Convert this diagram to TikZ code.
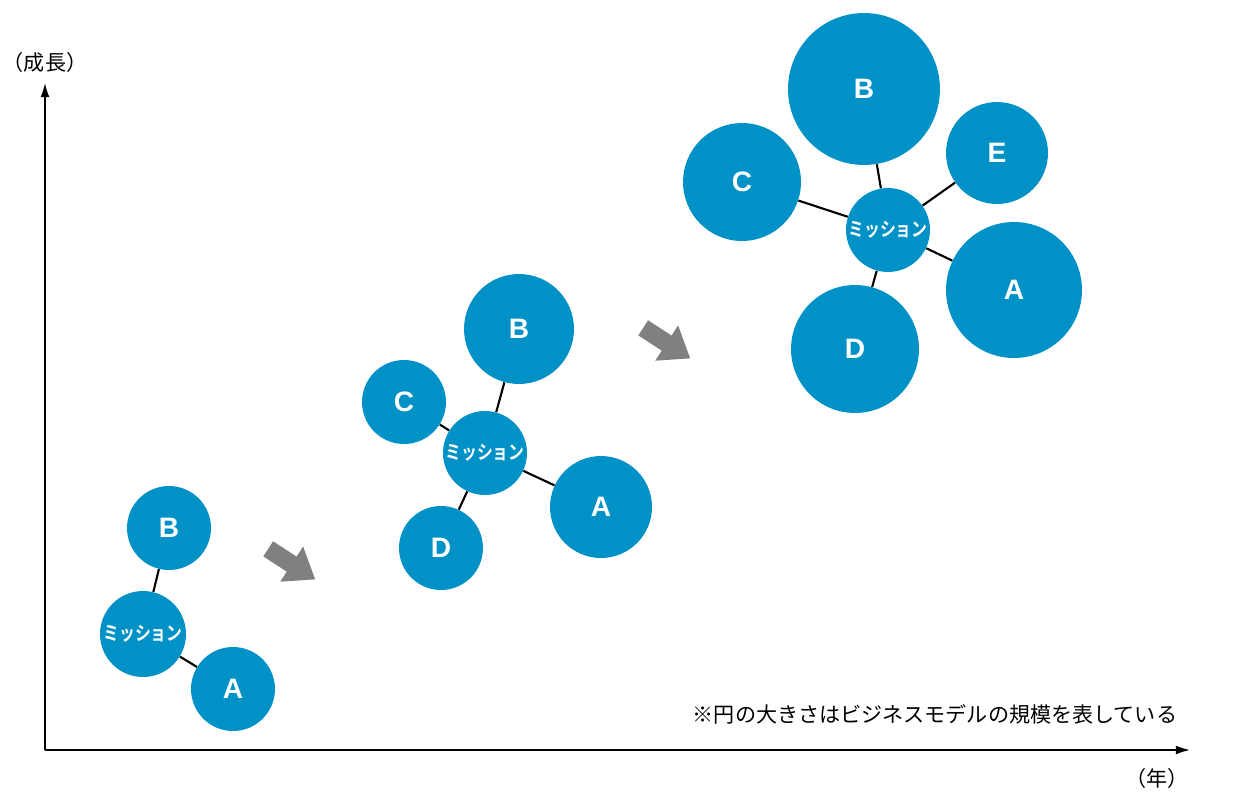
\documentclass[tikz,border=0pt]{standalone}
\usepackage{fontspec}
\setmainfont{Liberation Sans}
\newfontfamily\jp{Noto Sans CJK JP}
\newfontfamily\jpb{Noto Sans CJK JP Bold}
\usetikzlibrary{arrows.meta}
\definecolor{cblue}{HTML}{0091C7}
\definecolor{agray}{HTML}{808080}
\tikzset{
  bub/.style={circle,fill=cblue,inner sep=0pt,minimum size=#1*0.04cm,text=white,font=\bfseries\fontsize{16}{16}\selectfont},
  mis/.style={circle,fill=cblue,inner sep=0pt,minimum size=#1*0.04cm,text=white,font=\jpb\fontsize{11}{11}\selectfont},
  edge/.style={line width=1.2pt,black},
  fat/.style={fill=agray,draw=none}
}
\newcommand{\mtext}{\scalebox{0.82}[1]{ミッション}}
\begin{document}
\begin{tikzpicture}[x=0.02cm,y=-0.02cm]
\useasboundingbox (0,0) rectangle (1258,802);
% axes
\draw[line width=0.8pt,-{Latex[length=8pt,width=5pt]}] (45,750) -- (45,83);
\draw[line width=0.8pt,-{Latex[length=8pt,width=5pt]}] (45,750) -- (1190,750);
\node[font=\jp\fontsize{12}{12}\selectfont] (ylab) at (45,62) {（成長）};
\node[font=\jp\fontsize{12}{12}\selectfont] (xlab) at (1157,778) {（年）};
\node[font=\jp\fontsize{12}{12}\selectfont] (note) at (935,714) {※円の大きさはビジネスモデルの規模を表している};
% group 1
\node[mis=43] (m1) at (143,634) {\mtext};
\node[bub=42] (b1) at (169,528) {B};
\node[bub=42] (a1) at (233,689) {A};
\draw[edge] (m1) -- (b1);
\draw[edge] (m1) -- (a1);
% group 2
\node[mis=42] (m2) at (485,453) {\mtext};
\node[bub=55] (b2) at (519,329) {B};
\node[bub=42] (c2) at (404,402) {C};
\node[bub=51] (a2) at (601,507) {A};
\node[bub=42] (d2) at (441,548) {D};
\foreach \t in {b2,c2,a2,d2} \draw[edge] (m2) -- (\t);
% group 3
\node[mis=42] (m3) at (888,230) {\mtext};
\node[bub=76] (b3) at (864,89) {B};
\node[bub=59] (c3) at (742,182) {C};
\node[bub=51] (e3) at (997,153) {E};
\node[bub=68] (a3) at (1014,290) {A};
\node[bub=64] (d3) at (855,349) {D};
\foreach \t in {b3,c3,e3,a3,d3} \draw[edge] (m3) -- (\t);
% fat arrows
\foreach \p in {(290,563),(665,342)}{
  \fill[fat,shift={\p},rotate=-33] (-26,-9) -- (2,-9) -- (2,-21) -- (30,0) -- (2,21) -- (2,9) -- (-26,9) -- cycle;
}
\end{tikzpicture}
\end{document}
